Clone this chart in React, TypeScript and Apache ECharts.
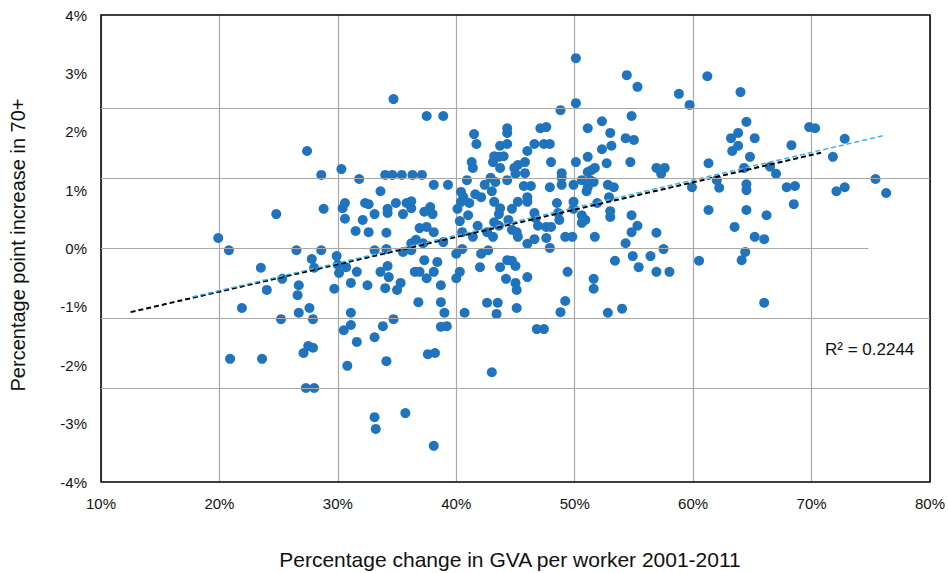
import React, { useEffect, useRef } from "react";
import * as echarts from "echarts";

// Percentage change in GVA per worker 2001-2011 (x, %)
const gvaChange: number[] = [
  19.9, 20.8, 26.5, 27.4, 28.6, 24.8, 28.8, 27.8, 28.0, 23.5,
  25.3, 24.0, 26.7, 26.6, 21.9, 26.7, 27.6, 25.2, 27.9, 20.9,
  23.6, 27.1, 27.5, 27.9, 27.3, 28.0, 28.6, 30.3, 31.8, 33.6,
  34.0, 34.6, 35.4, 36.3, 37.1, 34.7, 37.5, 38.9, 38.1, 39.3,
  30.6, 30.4, 30.6, 32.3, 32.6, 32.1, 33.1, 31.5, 32.6, 34.1,
  34.2, 34.2, 34.9, 35.5, 35.8, 36.2, 36.2, 37.3, 37.8, 38.0,
  36.9, 37.5, 38.1, 36.2, 36.6, 37.2, 35.5, 36.2, 33.1, 34.1,
  29.9, 38.9, 40.0, 40.5, 29.7, 30.0, 30.1, 30.7, 31.1, 31.6,
  32.5, 33.6, 34.2, 34.3, 34.0, 35.0, 35.3, 36.5, 36.9, 37.3,
  37.5, 38.1, 38.4, 38.7, 36.8, 38.7, 39.0, 38.7, 39.2, 37.6,
  38.2, 40.0, 40.3, 40.7, 30.5, 31.1, 31.1, 31.6, 30.8, 33.1,
  33.8, 34.7, 34.1, 33.1, 33.2, 35.7, 38.1, 42.0, 42.1, 42.7,
  42.6, 43.5, 43.4, 43.0, 43.7, 44.2, 44.3, 44.7, 45.0, 45.0,
  45.1, 45.1, 46.0, 46.8, 47.4, 49.2, 48.8, 49.4, 51.6, 51.6,
  52.8, 53.4, 41.5, 41.7, 41.3, 41.4, 40.9, 40.4, 40.6, 40.4,
  41.1, 40.1, 41.6, 42.1, 40.3, 41.0, 40.5, 41.4, 41.8, 42.4,
  42.9, 43.3, 43.0, 43.2, 44.0, 43.7, 43.2, 43.6, 43.1, 43.7,
  44.3, 44.3, 44.3, 46.0, 46.6, 45.8, 45.2, 44.9, 45.0, 45.8,
  44.3, 45.7, 46.3, 46.0, 45.2, 46.0, 44.7, 43.7, 43.6, 43.2,
  43.6, 44.4, 44.7, 45.1, 45.2, 42.6, 43.1, 46.6, 46.7, 46.9,
  47.6, 48.0, 46.0, 46.6, 47.6, 47.9, 47.1, 47.6, 47.4, 47.9,
  48.0, 47.9, 48.8, 48.9, 48.9, 48.9, 48.5, 48.6, 48.7, 49.2,
  49.8, 49.9, 50.1, 50.1, 50.1, 49.9, 49.9, 50.6, 51.1, 51.4,
  51.3, 51.6, 51.7, 51.0, 51.1, 51.1, 51.1, 52.3, 52.3, 53.0,
  53.1, 52.7, 51.9, 50.6, 50.9, 50.6, 51.7, 52.9, 53.0, 53.0,
  52.8, 53.3, 54.4, 55.3, 58.8, 59.7, 61.2, 64.0, 54.8, 54.3,
  55.0, 54.7, 56.9, 57.6, 57.3, 61.3, 59.9, 62.0, 62.2, 63.2,
  63.8, 63.8, 63.3, 64.5, 65.2, 64.8, 64.3, 64.5, 64.5, 64.5,
  63.5, 61.3, 65.2, 66.0, 64.4, 64.1, 60.5, 66.2, 66.5, 67.0,
  68.3, 67.9, 68.6, 68.5, 69.8, 70.3, 72.8, 71.8, 72.1, 72.8,
  75.4, 76.3, 54.8, 54.8, 55.3, 54.3, 54.9, 56.4, 56.9, 57.5,
  55.4, 56.9, 58.0, 54.0, 66.0,
];

// Percentage point increase in 70+ (y, %)
const over70Increase: number[] = [
  0.18, -0.03, -0.03, 1.67, 1.26, 0.59, 0.68, -0.18, -0.33, -0.33,
  -0.52, -0.71, -0.63, -0.80, -1.02, -1.10, -1.02, -1.21, -1.21, -1.89,
  -1.89, -1.79, -1.67, -1.70, -2.39, -2.39, -0.03, 1.36, 1.19, 0.98,
  1.26, 1.26, 1.26, 1.26, 1.26, 2.56, 2.27, 2.27, 1.09, 1.09,
  0.78, 0.69, 0.51, 0.78, 0.76, 0.49, 0.59, 0.30, 0.28, 0.27,
  0.68, 0.61, 0.78, 0.59, 0.78, 0.81, 0.69, 0.63, 0.71, 0.59,
  0.35, 0.37, 0.28, 0.09, 0.15, 0.09, -0.06, -0.03, -0.03, -0.01,
  -0.13, 0.11, -0.09, -0.01, -0.69, -0.28, -0.42, -0.32, -0.59, -0.40,
  -0.63, -0.40, -0.30, -0.49, -0.68, -0.71, -0.59, -0.40, -0.40, -0.20,
  -0.51, -0.40, -0.23, -0.63, -0.92, -0.92, -1.10, -1.34, -1.33, -1.81,
  -1.79, -0.51, -0.40, -1.10, -1.40, -1.10, -1.31, -1.60, -2.01, -1.52,
  -1.33, -1.21, -1.93, -2.89, -3.09, -2.82, -3.38, -0.32, -0.09, -0.03,
  -0.93, -0.93, -1.12, -2.12, -0.32, -0.52, -0.20, -0.21, -0.30, -0.59,
  -0.71, -1.02, -0.49, -1.38, -1.38, -0.90, -1.09, -0.40, -0.52, -0.69,
  -1.10, -0.21, 1.96, 1.79, 1.48, 1.38, 1.17, 0.97, 0.88, 0.80,
  0.78, 0.68, 0.93, 0.88, 0.47, 0.57, 0.28, 0.20, 0.39, 1.09,
  1.21, 1.14, 0.98, 0.80, 1.58, 1.38, 1.58, 1.57, 1.48, 1.76,
  1.79, 2.06, 1.98, 1.67, 1.79, 1.48, 1.43, 1.38, 1.28, 1.29,
  1.17, 1.07, 1.07, 0.88, 0.80, 0.80, 0.68, 0.69, 0.59, 0.45,
  0.39, 0.49, 0.32, 0.28, 0.20, 0.28, 0.20, 0.61, 0.52, 0.39,
  0.37, 0.37, 0.08, 0.16, 0.18, 0.01, 2.06, 2.08, 1.79, 1.79,
  1.48, 1.05, 2.37, 1.29, 1.21, 1.09, 0.78, 0.61, 0.49, 0.20,
  0.20, 1.09, 3.26, 2.49, 1.48, 0.80, 0.68, 1.17, 1.31, 1.34,
  1.17, 1.14, 1.38, 0.98, 1.05, 2.06, 1.57, 2.18, 1.70, 1.98,
  1.76, 1.46, 0.78, 0.57, 0.49, 0.44, 0.20, 0.88, 0.64, 0.54,
  1.09, 1.05, 2.97, 2.77, 2.65, 2.46, 2.95, 2.68, 2.27, 1.89,
  1.86, 1.48, 1.38, 1.38, 1.28, 1.46, 1.05, 1.17, 1.04, 1.89,
  1.98, 1.76, 1.67, 2.17, 1.89, 1.57, 1.38, 1.10, 1.00, 0.66,
  0.37, 0.66, 0.20, 0.16, -0.06, -0.20, -0.21, 0.57, 1.40, 1.28,
  1.77, 1.05, 1.07, 0.76, 2.08, 2.06, 1.88, 1.57, 0.98, 1.05,
  1.19, 0.95, 0.57, 0.28, 0.39, 0.09, -0.13, -0.13, 0.27, -0.01,
  -0.32, -0.40, -0.40, -1.03, -0.93,
];

// Linear trend lines (start and end points)
const trendBlackX: number[] = [12.5, 70.8];
const trendBlackY: number[] = [-1.09, 1.64];
const trendBlueX: number[] = [17.7, 76.0];
const trendBlueY: number[] = [-0.83, 1.93];

// Horizontal gridlines as drawn in the original
const gridYValues: number[] = [2.4, 1.2, -1.2, -2.4];
const zeroLineRange: number[] = [10, 74.8];

const rSquaredText = "R² = 0.2244";
const xTitle = "Percentage change in GVA per worker 2001-2011";
const yTitle = "Percentage point increase in 70+";

const FONT = "'Liberation Sans', Arial, Helvetica, sans-serif";

export default function App() {
  const ref = useRef<HTMLDivElement>(null);

  useEffect(() => {
    if (!ref.current) return;
    const chart = echarts.init(ref.current, undefined, { renderer: "svg" });

    const points = gvaChange.map((x, i) => [x, over70Increase[i]]);
    const black = trendBlackX.map((x, i) => [x, trendBlackY[i]]);
    const blue = trendBlueX.map((x, i) => [x, trendBlueY[i]]);

    const gridLineStyle = { color: "#a9a9a9", width: 1.2, type: "solid" as const };

    chart.setOption({
      animation: false,
      backgroundColor: "#ffffff",
      textStyle: { fontFamily: FONT },
      grid: {
        left: 101,
        right: 15,
        top: 15,
        bottom: 91,
        show: true,
        borderColor: "#000",
        borderWidth: 1.5,
        backgroundColor: "transparent",
        z: 5,
      },
      xAxis: {
        type: "value",
        min: 10,
        max: 80,
        interval: 10,
        axisLine: { show: false },
        axisTick: { show: false },
        splitLine: { show: true, lineStyle: { color: "#a9a9a9", width: 1.2 } },
        axisLabel: {
          formatter: (v: number) => `${v}%`,
          fontSize: 15,
          color: "#111",
          margin: 14,
          fontFamily: FONT,
        },
      },
      yAxis: {
        type: "value",
        min: -4,
        max: 4,
        interval: 1,
        axisLine: { show: false },
        axisTick: { show: false },
        splitLine: { show: false },
        axisLabel: {
          formatter: (v: number) => `${v}%`,
          fontSize: 15,
          color: "#111",
          margin: 14,
          fontFamily: FONT,
        },
      },
      series: [
        {
          type: "line",
          data: [],
          silent: true,
          z: 1,
          markLine: {
            silent: true,
            symbol: ["none", "none"],
            label: { show: false },
            lineStyle: gridLineStyle,
            data: [
              ...gridYValues.map((v) => ({ yAxis: v })),
              [
                { coord: [zeroLineRange[0], 0] },
                { coord: [zeroLineRange[1], 0] },
              ],
            ],
          },
        },
        {
          type: "scatter",
          data: points,
          symbol: "circle",
          symbolSize: 10,
          itemStyle: { color: "#1f74bd", opacity: 1 },
          z: 3,
        },
        {
          type: "line",
          data: black,
          showSymbol: false,
          symbol: "none",
          lineStyle: { color: "#000", width: 2, type: [5, 3] },
          z: 4,
        },
        {
          type: "line",
          data: blue,
          showSymbol: false,
          symbol: "none",
          lineStyle: { color: "#3fb2e8", width: 1.5, type: [5, 3] },
          z: 4,
        },
      ],
      graphic: [
        {
          type: "text",
          x: 18,
          y: 245,
          rotation: Math.PI / 2,
          style: {
            text: yTitle,
            font: `20px ${FONT}`,
            fill: "#111",
            textAlign: "center",
            textVerticalAlign: "middle",
          },
        },
        {
          type: "text",
          x: 510,
          y: 559,
          style: {
            text: xTitle,
            font: `21px ${FONT}`,
            fill: "#111",
            textAlign: "center",
            textVerticalAlign: "middle",
          },
        },
        {
          type: "text",
          x: 825,
          y: 349,
          style: {
            text: rSquaredText,
            font: `17px ${FONT}`,
            fill: "#111",
            textAlign: "left",
            textVerticalAlign: "middle",
          },
        },
      ],
    });

    return () => chart.dispose();
  }, []);

  return (
    <div
      ref={ref}
      style={{ position: "fixed", left: 0, top: 0, width: 948, height: 573 }}
    />
  );
}
